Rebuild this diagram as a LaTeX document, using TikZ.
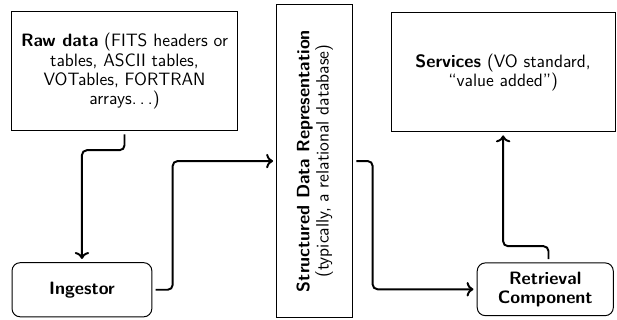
\documentclass[tikz,border=0pt]{standalone}
\usepackage{tikz}
\usetikzlibrary{positioning,calc,arrows.meta}

\newcommand{\spdots}{.\kern.18em.\kern.18em.}

\begin{document}
\begin{tikzpicture}[
	font=\sffamily\fontsize{11}{11.8}\selectfont,
	block/.style={rectangle, draw, semithick, align=center, inner sep=2pt},
	unit/.style={block, rounded corners=5pt, font=\sffamily\fontsize{11}{11.8}\selectfont\bfseries},
	arrow/.style={->, very thick, rounded corners=3pt, shorten >=2pt, shorten <=2pt}
	]
	\useasboundingbox (0,0) rectangle (13.33,6.91);

	% ===== BOXES =====
	\node[block, minimum width=4.9cm, minimum height=2.57cm] (raw) at (2.69,5.37)
		{\textbf{Raw data} (FITS headers or\\tables, ASCII tables,\\VOTables, FORTRAN\\arrays\spdots)};
	\node[unit, minimum width=3.02cm, minimum height=1.17cm] (ingest) at (1.77,0.65) {Ingestor};
	\node[block, rotate=90, minimum width=6.78cm, minimum height=1.64cm] (sdr) at (6.80,3.43)
		{\textbf{Structured Data Representation}\\(typically, a relational database)};
	\node[block, minimum width=4.84cm, minimum height=2.57cm] (serv) at (10.87,5.35)
		{\textbf{Services} (VO standard,\\``value added'')};
	\node[unit, minimum width=2.94cm, minimum height=1.14cm] (retr) at (11.78,0.66) {Retrieval\\Component};

	% ===== ARROWS =====
	\draw[arrow] (raw.south) -- ++(0,-0.41) -| (ingest.north);
	\draw[arrow] (ingest.east) -- ++(0.44,0) |- (sdr.north);
	\draw[arrow] (sdr.south) -- ++(0.42,0) |- (retr.west);
	\draw[arrow] ([xshift=0.07cm]retr.north) -- ++(0,0.35) -| (serv.south);
\end{tikzpicture}
\end{document}
